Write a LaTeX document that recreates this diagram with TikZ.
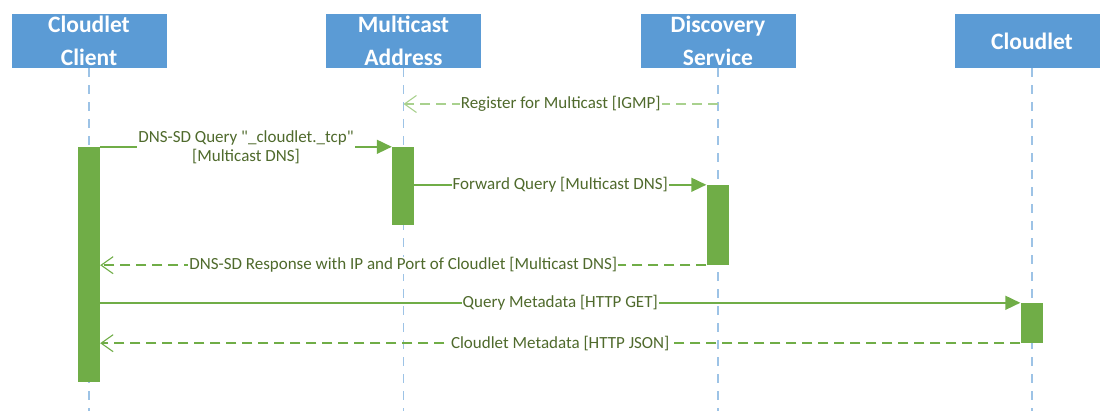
\documentclass[tikz,border=0pt]{standalone}
\usepackage{fontspec}
\setmainfont{Carlito}
\newfontfamily\lblfont{Carlito}
\usetikzlibrary{arrows.meta,calc}
\definecolor{hdrblue}{HTML}{5B9BD5}
\definecolor{lifeblue}{HTML}{9DC3E6}
\definecolor{actgreen}{HTML}{70AD47}
\definecolor{lightgreen}{HTML}{A9D18E}
\definecolor{labeltext}{HTML}{4F6A2C}
\tikzset{
  header/.style={rectangle, fill=hdrblue, text=white, align=center, inner sep=0pt,
    minimum width=155pt, minimum height=54pt,
    font=\fontsize{23.5}{33}\selectfont\bfseries},
  lifeline/.style={draw=lifeblue, line width=1.6pt, dash pattern=on 9pt off 8pt},
  actbar/.style={rectangle, fill=actgreen, inner sep=0pt, minimum width=22pt},
  msg/.style={draw=actgreen, line width=1.6pt, -{Triangle[length=15pt,width=14pt]}},
  reply/.style={draw=actgreen, line width=1.6pt, dash pattern=on 10pt off 6pt,
    -{Straight Barb[length=12pt,width=17pt,line width=1.1pt]}},
  regreply/.style={reply, draw=lightgreen},
  msglabel/.style={fill=white, text=labeltext, align=center, inner sep=1pt,
    font=\lblfont\fontsize{17}{19}\selectfont}
}
\begin{document}
\begin{tikzpicture}[x=1pt,y=-1pt]
\useasboundingbox (0,0) rectangle (1100,411);
% headers
\node[header] (chead) at (89,41) {Cloudlet\\Client};
\node[header] (mhead) at (403.5,41) {Multicast\\Address};
\node[header] (dhead) at (718,41) {Discovery\\Service};
\node[header] (clhead) at (1032,41) {Cloudlet};
% lifeline bottoms
\coordinate (cend) at (89,411);
\coordinate (mend) at (403.5,411);
\coordinate (dend) at (718,411);
\coordinate (clend) at (1032,411);
\draw[lifeline] (chead.south) -- (cend);
\draw[lifeline] (mhead.south) -- (mend);
\draw[lifeline] (dhead.south) -- (dend);
\draw[lifeline] (clhead.south) -- (clend);
% activation bars
\node[actbar, minimum height=235pt] (cbar) at (89,264.5) {};
\node[actbar, minimum height=78pt] (mbar) at (403,186) {};
\node[actbar, minimum height=80pt] (dbar) at (717.5,225) {};
\node[actbar, minimum height=40pt] (clbar) at (1031.5,323) {};
% register
\coordinate (regs) at (718,104);
\coordinate (rege) at (403.5,104);
\draw[regreply] (regs) -- (rege) node[msglabel, midway] {Register for Multicast [IGMP]};
% DNS-SD query
\draw[msg] (cbar.north east) -- (mbar.north west)
  node[msglabel, midway] {DNS-SD Query "\_cloudlet.\_tcp"\\{}[Multicast DNS]};
% forward
\draw[msg] (mbar.east |- dbar.north) -- (dbar.north west)
  node[msglabel, midway] {Forward Query [Multicast DNS]};
% response
\draw[reply] (dbar.south west) -- (cbar.east |- dbar.south)
  node[msglabel, midway] {DNS-SD Response with IP and Port of Cloudlet [Multicast DNS]};
% query metadata
\draw[msg] (cbar.east |- clbar.north) -- (clbar.north west)
  node[msglabel, midway] {Query Metadata [HTTP GET]};
% cloudlet metadata
\draw[reply] (clbar.south west) -- (cbar.east |- clbar.south)
  node[msglabel, midway] {Cloudlet Metadata [HTTP JSON]};
\end{tikzpicture}
\end{document}
